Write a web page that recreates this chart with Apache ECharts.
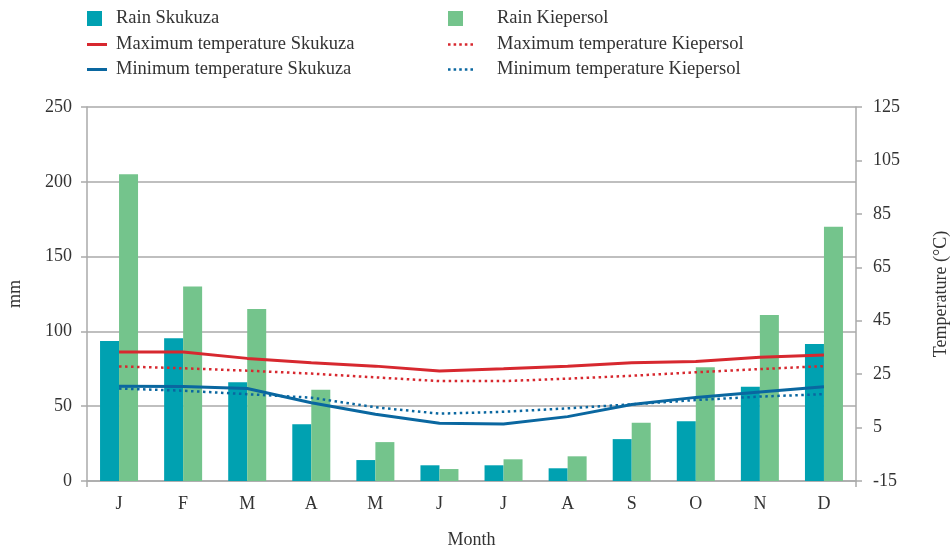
<!DOCTYPE html>
<html lang="en">
<head>
    <meta charset="utf-8">
    <title>Rain and temperature</title>
    <script src="https://cdn.jsdelivr.net/npm/echarts@6/dist/echarts.min.js"></script>
    <style>
        html, body { margin: 0; padding: 0; background: #fff; }
    </style>
</head>
<body>

<div id="main" style="width: 950px;height:547px;"></div>

<script type="text/javascript">

    var months = ['J', 'F', 'M', 'A', 'M', 'J', 'J', 'A', 'S', 'O', 'N', 'D'];

    // mm
    var rainSkukuza = [93.5, 95.5, 66, 38, 14, 10.5, 10.5, 8.5, 28, 40, 63, 91.5];
    var rainKiepersol = [205, 130, 115, 61, 26, 8, 14.5, 16.5, 39, 76, 111, 170];

    // °C
    var maxSkukuza = [33.3, 33.3, 30.9, 29.3, 28, 26.2, 27, 28, 29.3, 29.7, 31.3, 32.2];
    var maxKiepersol = [27.9, 27.2, 26.3, 25.2, 23.8, 22.4, 22.4, 23.3, 24.4, 25.7, 26.9, 28];
    var minSkukuza = [20.5, 20.4, 19.6, 14.3, 10, 6.6, 6.3, 9.1, 13.6, 16.3, 18.3, 20.3];
    var minKiepersol = [19.6, 18.8, 17.5, 16.2, 12.6, 10.2, 10.9, 12.2, 13.7, 15.3, 16.6, 17.5];

    var font = 'Liberation Serif';
    var textColor = '#333';
    var axisGrey = '#aaaaaa';
    var teal = '#00a1b1';
    var green = '#74c48c';
    var red = '#d7282f';
    var blue = '#0a67a0';

    // legend icons
    var squareIcon = 'path://M0,0H15V15H0Z';
    var solidIcon = 'path://M0,0H20V3H0Z';
    var dotIcon = 'path://M0,0h2.5v2.5h-2.5zM5.5,0h2.5v2.5h-2.5zM11,0h2.5v2.5h-2.5zM16.5,0h2.5v2.5h-2.5zM22,0h2.5v2.5h-2.5z';

    var myChart = echarts.init(document.getElementById('main'));

    function legendItem(name, icon, left, top, w, h, textPad) {
        return {
            left: left,
            top: top,
            padding: 0,
            itemWidth: w,
            itemHeight: h,
            textStyle: { fontFamily: font, fontSize: 18.5, color: textColor, padding: [0, 0, 0, textPad] },
            data: [{ name: name, icon: icon }]
        };
    }

    option = {
        animation: false,
        backgroundColor: '#fff',
        legend: [
            legendItem('Rain Skukuza', squareIcon, 87, 9, 15, 15, 9),
            legendItem('Maximum temperature Skukuza', solidIcon, 87, 35, 20, 15, 4),
            legendItem('Minimum temperature Skukuza', solidIcon, 87, 60, 20, 15, 4),
            legendItem('Rain Kiepersol', squareIcon, 448, 9, 15, 15, 29),
            legendItem('Maximum temperature Kiepersol', dotIcon, 448, 35, 25, 15, 19),
            legendItem('Minimum temperature Kiepersol', dotIcon, 448, 60, 25, 15, 19)
        ],
        grid: {
            left: 87,
            right: 94,
            top: 107,
            bottom: 66,
            outerBoundsMode: 'none',
            containLabel: false
        },
        xAxis: {
            type: 'category',
            data: months,
            name: 'Month',
            nameLocation: 'middle',
            nameGap: 50,
            nameTextStyle: { fontFamily: font, fontSize: 18, color: textColor },
            axisLine: { lineStyle: { color: axisGrey, width: 1.5 } },
            // only the two end ticks, like the frame lines running past the axis
            axisTick: {
                show: true,
                length: 6,
                interval: function (index) { return index === 0; },
                lineStyle: { color: axisGrey, width: 1.5 }
            },
            axisLabel: { fontFamily: font, fontSize: 18, color: textColor, margin: 14 }
        },
        yAxis: [{
            type: 'value',
            min: 0,
            max: 250,
            interval: 50,
            name: 'mm',
            nameLocation: 'middle',
            nameRotate: 90,
            nameGap: 63,
            nameTextStyle: { fontFamily: font, fontSize: 18, color: textColor },
            axisLine: { show: true, lineStyle: { color: axisGrey, width: 1.5 } },
            axisTick: { show: true, length: 6, lineStyle: { color: axisGrey, width: 1.5 } },
            axisLabel: { fontFamily: font, fontSize: 18, color: textColor, margin: 15 },
            splitLine: { lineStyle: { color: axisGrey, width: 1.5 } }
        }, {
            type: 'value',
            position: 'right',
            min: -15,
            max: 125,
            interval: 20,
            name: 'Temperature (°C)',
            nameLocation: 'middle',
            nameRotate: 90,
            nameGap: 76,
            nameTextStyle: { fontFamily: font, fontSize: 18, color: textColor },
            axisLine: { show: true, lineStyle: { color: axisGrey, width: 1.5 } },
            axisTick: { show: true, length: 6, lineStyle: { color: axisGrey, width: 1.5 } },
            axisLabel: { fontFamily: font, fontSize: 18, color: textColor, margin: 17 },
            splitLine: { show: false }
        }],
        series: [{
            name: 'Rain Skukuza',
            type: 'bar',
            yAxisIndex: 0,
            barWidth: 19,
            barGap: 0,
            itemStyle: { color: teal },
            data: rainSkukuza
        }, {
            name: 'Rain Kiepersol',
            type: 'bar',
            yAxisIndex: 0,
            barWidth: 19,
            barGap: 0,
            itemStyle: { color: green },
            data: rainKiepersol
        }, {
            name: 'Maximum temperature Skukuza',
            type: 'line',
            yAxisIndex: 1,
            symbol: 'none',
            itemStyle: { color: red },
            lineStyle: { color: red, width: 3 },
            data: maxSkukuza
        }, {
            name: 'Minimum temperature Skukuza',
            type: 'line',
            yAxisIndex: 1,
            symbol: 'none',
            itemStyle: { color: blue },
            lineStyle: { color: blue, width: 3 },
            data: minSkukuza
        }, {
            name: 'Maximum temperature Kiepersol',
            type: 'line',
            yAxisIndex: 1,
            symbol: 'none',
            itemStyle: { color: red },
            lineStyle: { color: red, width: 2.5, type: [2.5, 3.5] },
            data: maxKiepersol
        }, {
            name: 'Minimum temperature Kiepersol',
            type: 'line',
            yAxisIndex: 1,
            symbol: 'none',
            itemStyle: { color: blue },
            lineStyle: { color: blue, width: 2.5, type: [2.5, 3.5] },
            data: minKiepersol
        }]
    };

    myChart.setOption(option);

</script>

</body>
</html>
